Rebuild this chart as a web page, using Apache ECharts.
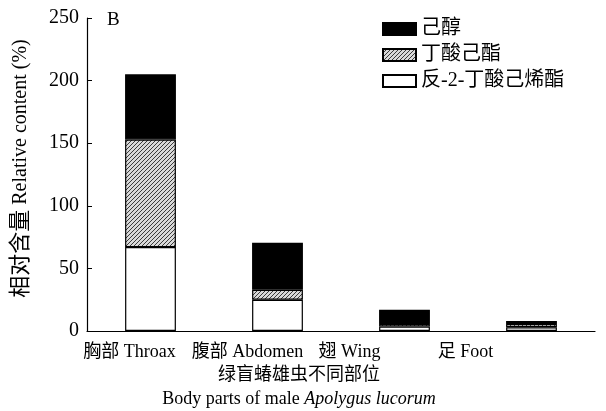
<!DOCTYPE html>
<html>
<head>
<meta charset="utf-8">
<script src="https://cdn.jsdelivr.net/npm/echarts@6/dist/echarts.min.js"></script>
<style>
  html, body { margin: 0; padding: 0; background: #fff; }
  #chart { width: 606px; height: 411px; }
</style>
</head>
<body>
<div id="chart"></div>
<script>
// Body parts of male Apolygus lucorum
const categories = ['胸部 Throax', '腹部 Abdomen', '翅 Wing', '足 Foot'];
// Relative content (%) of each compound, stacked bottom to top
const hexenylButyrate = [67, 25, 3.5, 3];      // 反-2-丁酸己烯酯
const hexylButyrate   = [86, 8, 2, 2.5];       // 丁酸己酯
const hexanol         = [52, 37.5, 11.5, 2.5]; // 己醇
const yTicks = { min: 0, max: 250, interval: 50 };

const serif = '"Liberation Serif", "Times New Roman", "Noto Sans CJK SC", serif';

// Category labels sit left of their bars; right padding pulls each centred label left
const labelShift = [42, 60, 110, 132];

// Diagonal hatch fill
function hatch() {
  const c = document.createElement('canvas');
  c.width = 4; c.height = 4;
  const g = c.getContext('2d');
  g.fillStyle = '#d8d8d8';
  g.fillRect(0, 0, 4, 4);
  g.strokeStyle = '#3a3a3a';
  g.lineWidth = 1;
  g.beginPath();
  g.moveTo(0, 4); g.lineTo(4, 0);
  g.moveTo(-1, 1); g.lineTo(1, -1);
  g.moveTo(3, 5); g.lineTo(5, 3);
  g.stroke();
  return c;
}

const border = { borderColor: '#000', borderWidth: 1.2 };

const xRich = {};
labelShift.forEach((p, i) => {
  xRich['s' + i] = { fontFamily: serif, fontSize: 18, color: '#000', padding: [0, p, 0, 0] };
});

const chart = echarts.init(document.getElementById('chart'), null, { renderer: 'canvas' });
chart.setOption({
  animation: false,
  backgroundColor: '#fff',
  textStyle: { fontFamily: serif, color: '#000' },
  grid: { left: 87, right: 11, top: 18, bottom: 80, outerBoundsMode: 'none', containLabel: false },
  legend: {
    orient: 'vertical',
    left: 377, top: 14,
    icon: 'rect',
    itemWidth: 33, itemHeight: 12, itemGap: 6,
    textStyle: { fontFamily: serif, fontSize: 20, color: '#000' },
    data: ['己醇', '丁酸己酯', '反-2-丁酸己烯酯']
  },
  xAxis: [{
    type: 'category',
    data: categories,
    axisLine: { lineStyle: { color: '#000', width: 1.2 } },
    axisTick: { inside: true, length: 5, lineStyle: { color: '#000' } },
    axisLabel: {
      fontFamily: serif, fontSize: 18, color: '#000', margin: 12, interval: 0,
      formatter: (v, i) => '{s' + i + '|' + v + '}',
      rich: xRich
    },
    name: '{a|绿盲蝽雄虫不同部位}\n{b|Body parts of male }{i|Apolygus lucorum}',
    nameLocation: 'middle',
    nameGap: 31,
    nameTextStyle: {
      padding: [0, 84, 0, 0],
      rich: {
        a: { fontFamily: serif, fontSize: 18, color: '#000', lineHeight: 24 },
        b: { fontFamily: serif, fontSize: 18, color: '#000', lineHeight: 24 },
        i: { fontFamily: serif, fontSize: 18, fontStyle: 'italic', color: '#000', lineHeight: 24 }
      }
    }
  }, {
    // half-category ticks along the baseline
    type: 'category',
    position: 'bottom',
    data: ['', '', '', '', '', '', '', ''],
    z: 10,
    axisLine: { show: false },
    axisTick: { inside: true, length: 5, lineStyle: { color: '#000' } },
    axisLabel: { show: false }
  }],
  yAxis: {
    type: 'value',
    min: yTicks.min, max: yTicks.max, interval: yTicks.interval,
    name: '{c|相对含量}{e| Relative content (%)}',
    nameLocation: 'middle',
    nameGap: 55,
    nameTextStyle: {
      padding: [0, 0, 0, 12],
      rich: {
        c: { fontFamily: serif, fontSize: 22, color: '#000' },
        e: { fontFamily: serif, fontSize: 20, color: '#000' }
      }
    },
    axisLine: { show: true, lineStyle: { color: '#000', width: 1.2 } },
    axisTick: { show: true, inside: true, length: 5, lineStyle: { color: '#000' } },
    axisLabel: { fontFamily: serif, fontSize: 20, color: '#000', margin: 8 },
    splitLine: { show: false }
  },
  graphic: [{
    type: 'text', left: 107, top: 11,
    style: { text: 'B', font: '19px ' + serif, fill: '#000' }
  }],
  series: [{
    name: '反-2-丁酸己烯酯', type: 'bar', stack: 'all', barWidth: '40%',
    data: hexenylButyrate,
    itemStyle: Object.assign({ color: '#fff' }, border)
  }, {
    name: '丁酸己酯', type: 'bar', stack: 'all',
    data: hexylButyrate,
    itemStyle: Object.assign({ color: { image: hatch(), repeat: 'repeat' } }, border)
  }, {
    name: '己醇', type: 'bar', stack: 'all',
    data: hexanol,
    itemStyle: Object.assign({ color: '#000' }, border)
  }]
});
</script>
</body>
</html>
